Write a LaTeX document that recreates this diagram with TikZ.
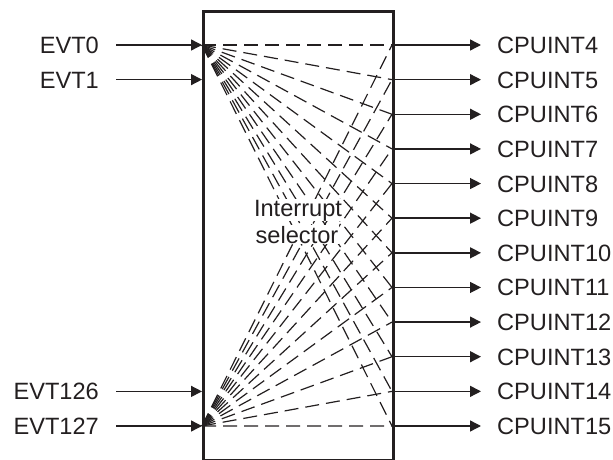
\documentclass[tikz,border=0pt]{standalone}
\usepackage{fontspec}
\setmainfont{Liberation Sans}
\usetikzlibrary{arrows.meta}
\definecolor{ink}{HTML}{231F20}
\begin{document}
\begin{tikzpicture}[x=1pt,y=-1pt,
  lbl/.style={font=\fontsize{23.6}{27}\selectfont, text=ink, inner sep=0pt},
  sig/.style={draw=ink, line width=1.4pt, -{Triangle[length=11pt,width=11pt]}},
  conn/.style={draw=ink, line width=1.2pt, dash pattern=on 14pt off 7pt},
  frame/.style={draw=ink, line width=3pt, inner sep=0pt, minimum width=190pt, minimum height=448.5pt}]
\useasboundingbox (0,0) rectangle (613,460);
% input points
\coordinate (e0) at (202,45);
\coordinate (e1) at (202,79.6);
\coordinate (e126) at (202,391.4);
\coordinate (e127) at (202,426);
% output points and labels
\foreach \k in {4,...,15} {
  \pgfmathsetmacro{\yy}{45+34.636*(\k-4)}
  \coordinate (o\k) at (392,\yy);
  \coordinate (t\k) at (481,\yy);
  \node[lbl, anchor=base west] (c\k) at (497,\yy+8.5) {CPUINT\k};
}
% dashed connections
\foreach \k in {4,...,15} {
  \draw[conn] (e0) -- (o\k);
  \draw[conn] (e127) -- (o\k);
}
% center text
\node[lbl, anchor=base, fill=white, inner sep=0.5pt] (t1) at (298,216) {Interrupt};
\node[lbl, anchor=base, fill=white, inner sep=0.5pt] (t2) at (297,243) {selector};
% box
\node[frame, anchor=north west] (box) at (202,10) {};
% inputs
\foreach \n/\y in {0/45,1/79.6,126/391.4,127/426} {
  \coordinate (s\n) at (116,\y);
  \node[lbl, anchor=base east] (l\n) at (99,\y+8.5) {EVT\n};
  \draw[sig] (s\n) -- (e\n);
}
% outputs
\foreach \k in {4,...,15} {
  \draw[sig] (o\k) -- (t\k);
}
\end{tikzpicture}
\end{document}
